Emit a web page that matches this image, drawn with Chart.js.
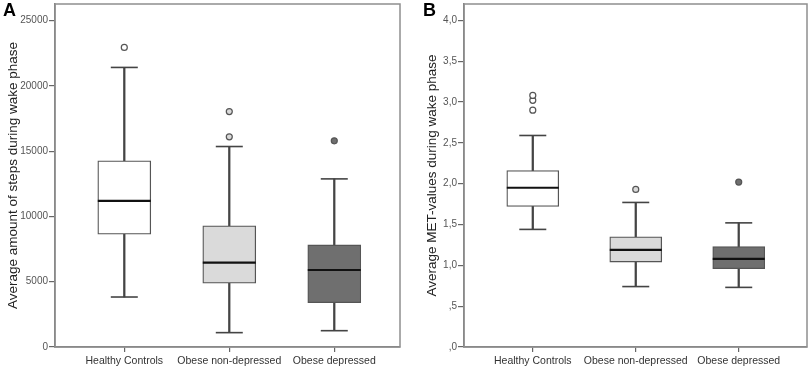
<!DOCTYPE html>
<html>
<head>
<meta charset="utf-8">
<script src="https://cdn.jsdelivr.net/npm/chart.js@4.4.1/dist/chart.umd.min.js"></script>
<style>
  body { margin: 0; background: #fff; }
  .panel { position: absolute; top: 0; }
</style>
</head>
<body>
<div class="panel" style="left:0"><canvas id="chartA" width="404" height="369"></canvas></div>
<div class="panel" style="left:414px"><canvas id="chartB" width="395" height="369"></canvas></div>
<script>
const groups = ['Healthy Controls', 'Obese non-depressed', 'Obese depressed'];
const groupFills = ['#ffffff', '#dadada', '#6f6f6f'];

// Panel A - steps during wake phase
const stepsMin = [3830, 1100, 1250];
const stepsQ1 = [8640, 4890, 3400];
const stepsMedian = [11200, 6470, 5900];
const stepsQ3 = [14260, 9280, 7820];
const stepsMax = [21420, 15360, 12880];
const stepsOutliers = [[22950], [16100, 18040], [15800]];
const stepsTicks = [0, 5000, 10000, 15000, 20000, 25000];
const stepsTickLabels = ['0', '5000', '10000', '15000', '20000', '25000'];

// Panel B - MET values during wake phase
const metMin = [1.44, 0.74, 0.73];
const metQ1 = [1.72, 1.04, 0.96];
const metMedian = [1.95, 1.19, 1.08];
const metQ3 = [2.16, 1.35, 1.23];
const metMax = [2.59, 1.77, 1.52];
const metOutliers = [[2.90, 3.02, 3.08], [1.93], [2.02]];
const metTicks = [0, 0.5, 1, 1.5, 2, 2.5, 3, 3.5, 4];
const metTickLabels = [',0', ',5', '1,0', '1,5', '2,0', '2,5', '3,0', '3,5', '4,0'];

Chart.defaults.font.family = "'Liberation Sans', Arial, sans-serif";

// frame round the plot area + panel letter
const panelDecor = {
    id: 'panelDecor',
    afterDraw(chart, args, opts) {
        const { ctx, chartArea: a } = chart;
        ctx.save();
        ctx.strokeStyle = '#8f8f8f';
        ctx.lineWidth = 1.5;
        ctx.strokeRect(a.left, a.top, a.right - a.left, a.bottom - a.top);
        ctx.fillStyle = '#000';
        ctx.font = "bold 18px 'Liberation Sans', Arial, sans-serif";
        ctx.textBaseline = 'alphabetic';
        ctx.fillText(opts.letter, opts.letterX, 16);
        ctx.restore();
    }
};

function renderBoxChart(canvasId, s) {
    const idx = [0, 1, 2];
    const outlierPts = [];
    const outlierFills = [];
    s.outliers.forEach((list, i) => {
        list.forEach(v => {
            outlierPts.push({ x: i, y: v });
            outlierFills.push(groupFills[i]);
        });
    });

    const ctx = document.getElementById(canvasId).getContext('2d');
    return new Chart(ctx, {
        type: 'bar',
        data: {
            datasets: [
                {
                    label: 'whisker',
                    data: idx.map(i => ({ x: i, y: [s.min[i], s.max[i]] })),
                    barThickness: 1.6,
                    backgroundColor: '#444',
                    borderWidth: 0,
                    grouped: false,
                    order: 4
                },
                {
                    label: 'box',
                    data: idx.map(i => ({ x: i, y: [s.q1[i], s.q3[i]] })),
                    barThickness: s.boxWidth,
                    backgroundColor: groupFills,
                    borderColor: '#555',
                    borderWidth: 1.3,
                    borderSkipped: false,
                    grouped: false,
                    order: 3
                },
                {
                    type: 'scatter',
                    label: 'caps',
                    data: idx.flatMap(i => [{ x: i, y: s.min[i] }, { x: i, y: s.max[i] }]),
                    pointStyle: 'line',
                    pointRadius: 13.5,
                    pointBorderColor: '#444',
                    pointBorderWidth: 1.6,
                    order: 2
                },
                {
                    type: 'scatter',
                    label: 'median',
                    data: idx.map(i => ({ x: i, y: s.median[i] })),
                    pointStyle: 'line',
                    pointRadius: s.boxWidth / 2,
                    pointBorderColor: '#111',
                    pointBorderWidth: 2.2,
                    order: 1
                },
                {
                    type: 'scatter',
                    label: 'outliers',
                    data: outlierPts,
                    pointStyle: 'circle',
                    pointRadius: 3,
                    pointBackgroundColor: outlierFills,
                    pointBorderColor: '#555',
                    pointBorderWidth: 1.2,
                    order: 0
                }
            ]
        },
        options: {
            responsive: false,
            animation: false,
            events: [],
            layout: { autoPadding: false, padding: { top: 4, right: s.padRight, left: 0, bottom: 0 } },
            plugins: {
                legend: { display: false },
                tooltip: { enabled: false },
                panelDecor: { letter: s.letter, letterX: s.letterX }
            },
            scales: {
                x: {
                    type: 'linear',
                    offset: false,
                    min: s.xMin,
                    max: s.xMax,
                    afterBuildTicks: sc => { sc.ticks = idx.map(v => ({ value: v })); },
                    afterFit: sc => { sc.height = 22; sc.paddingLeft = 0; sc.paddingRight = 0; },
                    ticks: {
                        autoSkip: false,
                        maxRotation: 0,
                        padding: 3,
                        color: '#333',
                        font: { size: 10.5 },
                        callback: (v, i) => groups[i]
                    },
                    grid: { drawOnChartArea: false, offset: false, tickLength: 5, color: '#666', lineWidth: 1.2 },
                    border: { color: '#7a7a7a', width: 1.5 }
                },
                y: {
                    type: 'linear',
                    min: 0,
                    max: s.yMax,
                    afterBuildTicks: sc => { sc.ticks = s.ticks.map(v => ({ value: v })); },
                    afterFit: sc => { sc.width = s.axisWidth; sc.paddingTop = 0; sc.paddingBottom = 0; },
                    ticks: {
                        autoSkip: false,
                        padding: 1,
                        color: '#555',
                        font: { size: 10 },
                        callback: (v, i) => s.tickLabels[i]
                    },
                    grid: { drawOnChartArea: false, tickLength: 6, color: '#666', lineWidth: 1.2 },
                    border: { color: '#7a7a7a', width: 1.5 },
                    title: {
                        display: true,
                        text: s.title,
                        color: '#222',
                        font: { size: 13.5 },
                        padding: { top: s.titlePad, bottom: 0 }
                    }
                }
            }
        },
        plugins: [panelDecor]
    });
}

renderBoxChart('chartA', {
    letter: 'A', letterX: 3,
    min: stepsMin, q1: stepsQ1, median: stepsMedian, q3: stepsQ3, max: stepsMax,
    outliers: stepsOutliers,
    ticks: stepsTicks, tickLabels: stepsTickLabels,
    yMax: 26280, xMin: -0.66, xMax: 2.626,
    boxWidth: 53, axisWidth: 55, padRight: 4, titlePad: 5,
    title: 'Average amount of steps during wake phase'
});

renderBoxChart('chartB', {
    letter: 'B', letterX: 9,
    min: metMin, q1: metQ1, median: metMedian, q3: metQ3, max: metMax,
    outliers: metOutliers,
    ticks: metTicks, tickLabels: metTickLabels,
    yMax: 4.2, xMin: -0.668, xMax: 2.663,
    boxWidth: 52, axisWidth: 50, padRight: 2, titlePad: 10,
    title: 'Average MET-values during wake phase'
});
</script>
</body>
</html>
